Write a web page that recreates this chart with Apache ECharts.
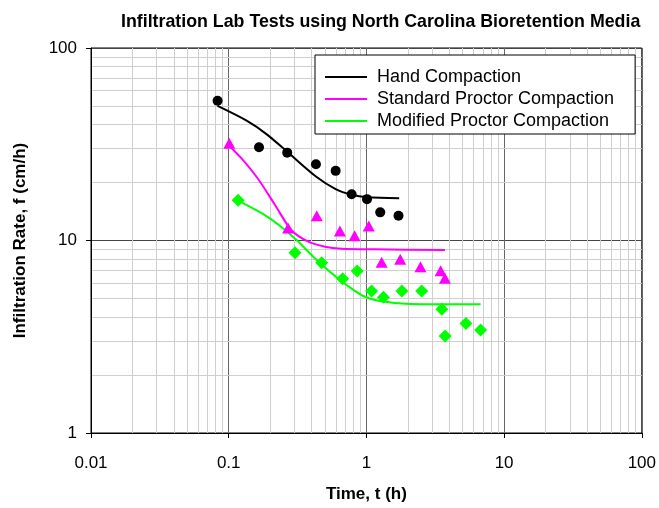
<!DOCTYPE html>
<html>
<head>
<meta charset="utf-8">
<script src="https://cdn.jsdelivr.net/npm/echarts@6/dist/echarts.min.js"></script>
<style>html,body{margin:0;padding:0;background:#fff}#c{width:659px;height:508px}</style>
</head>
<body>
<div id="c"></div>
<script>
// Measured points
var handT = [0.083, 0.166, 0.266, 0.43, 0.598, 0.781, 1.01, 1.26, 1.71];
var handF = [53.2, 30.5, 28.6, 24.9, 23.0, 17.4, 16.4, 14.0, 13.45];
var stdT = [0.101, 0.270, 0.436, 0.642, 0.821, 1.04, 1.29, 1.76, 2.47, 3.46, 3.72];
var stdF = [32.0, 11.6, 13.45, 11.2, 10.6, 11.9, 7.70, 7.98, 7.31, 6.97, 6.36];
var modT = [0.117, 0.303, 0.473, 0.672, 0.857, 1.09, 1.33, 1.81, 2.52, 3.53, 3.73, 5.28, 6.75];
var modF = [16.2, 8.64, 7.67, 6.33, 6.94, 5.47, 5.07, 5.47, 5.47, 4.39, 3.19, 3.71, 3.43];
// Fitted curves
var handCurveT = [0.083, 0.135, 0.189, 0.266, 0.43, 0.598, 0.781, 1.01, 1.73];
var handCurveF = [50.0, 41.9, 35.6, 28.9, 21.5, 18.5, 17.3, 16.8, 16.6];
var stdCurveT = [0.101, 0.124, 0.164, 0.217, 0.286, 0.378, 0.500, 0.660, 1.15, 3.72];
var stdCurveF = [31.0, 26.7, 20.8, 15.3, 11.3, 9.86, 9.29, 9.07, 9.0, 8.92];
var modCurveT = [0.117, 0.178, 0.236, 0.311, 0.411, 0.543, 0.718, 0.948, 1.25, 2.07, 6.75];
var modCurveF = [16.1, 13.7, 11.9, 10.06, 8.24, 6.88, 5.87, 5.15, 4.85, 4.68, 4.66];
var seriesNames = ['Hand Compaction', 'Standard Proctor Compaction', 'Modified Proctor Compaction'];
var xMinorTicks = [0.02,0.03,0.04,0.05,0.06,0.07,0.08,0.09,0.2,0.3,0.4,0.5,0.6,0.7,0.8,0.9,2,3,4,5,6,7,8,9,20,30,40,50,60,70,80,90];
var yMinorTicks = [2,3,4,5,6,7,8,9,20,30,40,50,60,70,80,90];

function zip(a, b) { return a.map(function (v, i) { return [v, b[i]]; }); }

var minorLines = xMinorTicks.map(function (v) { return { xAxis: v }; })
  .concat(yMinorTicks.map(function (v) { return { yAxis: v }; }));

var font = 'Liberation Sans, Arial, sans-serif';
var chart = echarts.init(document.getElementById('c'));
chart.setOption({
  animation: false,
  backgroundColor: '#fff',
  title: {
    text: 'Infiltration Lab Tests using North Carolina Bioretention Media',
    left: 116, top: 8,
    textStyle: { fontFamily: font, fontSize: 17.8, fontWeight: 'bold', color: '#000' }
  },
  grid: { left: 91, right: 17, top: 48, bottom: 75, show: true, borderColor: '#000', borderWidth: 1, backgroundColor: 'transparent' },
  legend: {
    data: seriesNames,
    orient: 'vertical',
    left: 315, top: 55,
    padding: [12, 21, 3, 10],
    itemGap: 2,
    itemWidth: 42, itemHeight: 2,
    icon: 'rect',
    backgroundColor: '#fff',
    borderColor: '#000', borderWidth: 1,
    z: 10,
    textStyle: { fontFamily: font, fontSize: 18, color: '#000', lineHeight: 20, padding: [0, 0, 0, 5] }
  },
  xAxis: {
    type: 'log', logBase: 10, min: 0.01, max: 100,
    name: 'Time, t (h)', nameLocation: 'middle', nameGap: 53,
    nameTextStyle: { fontFamily: font, fontSize: 17, fontWeight: 'bold', color: '#000' },
    axisLine: { lineStyle: { color: '#000', width: 1 } },
    axisTick: { show: true, inside: false, length: 5, lineStyle: { color: '#000' } },
    axisLabel: { fontFamily: font, fontSize: 17, color: '#000', margin: 22,
      formatter: function (v) { return String(v); } },
    splitLine: { show: true, lineStyle: { color: '#666', width: 1 } },
    minorTick: { show: false }, minorSplitLine: { show: false }
  },
  yAxis: {
    type: 'log', logBase: 10, min: 1, max: 100,
    name: 'Infiltration Rate, f (cm/h)', nameLocation: 'middle', nameGap: 62,
    nameTextStyle: { fontFamily: font, fontSize: 17, fontWeight: 'bold', color: '#000' },
    axisLine: { lineStyle: { color: '#000', width: 1 } },
    axisTick: { show: true, inside: false, length: 5, lineStyle: { color: '#000' } },
    axisLabel: { fontFamily: font, fontSize: 17, color: '#000', margin: 14,
      formatter: function (v) { return String(v); } },
    splitLine: { show: true, lineStyle: { color: '#444', width: 1 } },
    minorTick: { show: false }, minorSplitLine: { show: false }
  },
  series: [
    {
      name: 'minor grid', type: 'line', data: [], z: 0, zlevel: 0, silent: true,
      markLine: {
        silent: true, symbol: ['none', 'none'], label: { show: false },
        lineStyle: { color: '#cfcfcf', width: 1, type: 'solid' },
        emphasis: { disabled: true },
        animation: false, z: 0,
        data: minorLines
      }
    },
    { name: seriesNames[0], type: 'line', data: zip(handCurveT, handCurveF), color: '#000',
      smooth: 0.3, showSymbol: false, symbol: 'none',
      lineStyle: { color: '#000', width: 2 }, z: 3 },
    { name: seriesNames[1], type: 'line', data: zip(stdCurveT, stdCurveF), color: '#ff00ff',
      smooth: 0.3, showSymbol: false, symbol: 'none',
      lineStyle: { color: '#ff00ff', width: 2 }, z: 3 },
    { name: seriesNames[2], type: 'line', data: zip(modCurveT, modCurveF), color: '#00ff00',
      smooth: 0.3, showSymbol: false, symbol: 'none',
      lineStyle: { color: '#00ff00', width: 2 }, z: 3 },
    { name: 'Hand data', type: 'scatter', data: zip(handT, handF), symbol: 'circle', symbolSize: 10,
      itemStyle: { color: '#000', opacity: 1 }, z: 4 },
    { name: 'Standard data', type: 'scatter', data: zip(stdT, stdF), symbol: 'triangle', symbolSize: [12, 11],
      itemStyle: { color: '#ff00ff', opacity: 1 }, z: 4 },
    { name: 'Modified data', type: 'scatter', data: zip(modT, modF), symbol: 'diamond', symbolSize: [13, 13],
      itemStyle: { color: '#00ff00', opacity: 1 }, z: 4 }
  ]
});
</script>
</body>
</html>
